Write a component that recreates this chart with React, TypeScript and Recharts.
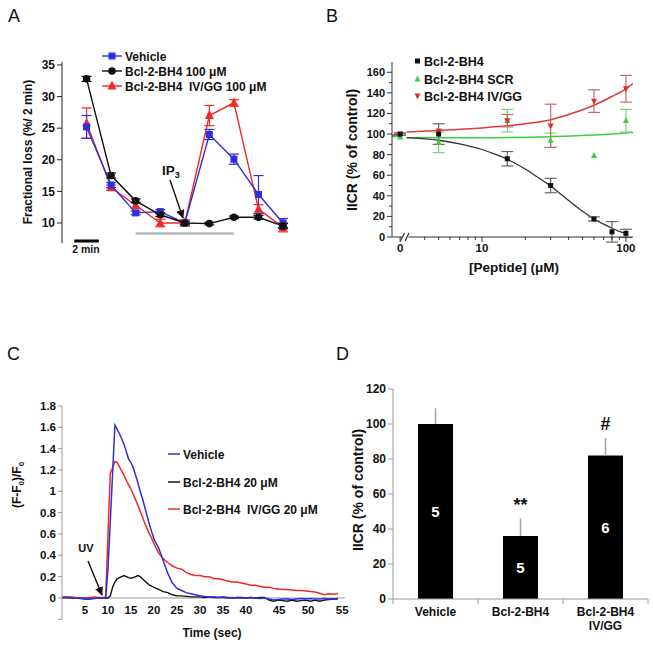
import React from "react";
import {
  LineChart,
  Line,
  XAxis,
  YAxis,
  ErrorBar,
  ReferenceLine,
  ComposedChart,
  Scatter,
  Bar,
  LabelList,
} from "recharts";

const FONT = "'Liberation Sans', Arial, Helvetica, sans-serif";
const W = 653;
const H = 646;

const BLUE = "#2f2fd8";
const RED = "#f02828";
const BLACK = "#111111";
const GREEN = "#3fcf3f";

// ---------- A: fractional loss, one point per 2 min fraction
const aIndex = [0, 1, 2, 3, 4, 5, 6, 7, 8];
const aVehicle = [25.2, 16.0, 11.6, 11.8, 10.0, 24.0, 20.1, 14.5, 10.0];
const aVehicleErr = [1.8, 0.4, 0.3, 0.3, 0.3, 0.8, 0.8, 3.0, 0.7];
const aBh4 = [32.8, 17.5, 13.5, 11.3, 10.0, 9.9, 10.9, 10.9, 9.5];
const aBh4Err = [0.4, 0.4, 0.3, 0.3, 0.2, 0.2, 0.2, 0.3, 0.4];
const aIvgg = [25.8, 15.6, 12.8, 10.0, 10.0, 27.0, 29.0, 12.2, 9.3];
const aIvggErr = [2.4, 0.4, 0.5, 0.6, 0.5, 1.6, 0.5, 0.7, 0.7];
const aYTicks = [10, 15, 20, 25, 30, 35];
const aNames = ["Vehicle", "Bcl-2-BH4 100 μM", "Bcl-2-BH4  IV/GG 100 μM"];

// ---------- B: dose response
const ZERO_AT = 2.7; // where "0" sits, left of the axis break
const bPos = (c: number) => (c === 0 ? ZERO_AT : c);
const bConc = [0, 5, 15, 30, 60, 80, 100];
const bBh4 = [100, 100, 76, 50, 17.5, 5, 3.5];
const bBh4Err = [1, 10, 7, 7, 2, 10, 4];
const bScrConc = [0, 5, 15, 30, 60, 100];
const bScr = [97, 92, 113, 94, 79, 113];
const bScrErr = [0, 10, 11, 7, 0, 11];
const bIvConc = [0, 5, 15, 30, 60, 100];
const bIv = [100, 103, 113, 108, 132, 144];
const bIvErr = [1, 0, 6, 21, 11, 13];

const bBh4FitC = [3, 5, 7, 10, 12, 15, 20, 25, 30, 35, 40, 50, 60, 70, 80, 90, 100];
const bBh4FitV = [96.5, 94, 90.5, 85, 81, 75.5, 66, 57, 49.5, 42, 35.5, 25, 17.5, 12.5, 8.5, 5.5, 3.5];
const bIvPreC = [2.371, 2.7];
const bIvPreV = [98.5, 101];
const bIvFitC = [3, 5, 10, 15, 20, 30, 40, 60, 80, 100, 112];
const bIvFitV = [102, 103.5, 106, 108, 110, 114, 119, 128, 136.5, 144, 149];
const bScrPreC = [2.371, 2.7];
const bScrPreV = [97.5, 97.5];
const bScrFitC = [3, 10, 30, 60, 100, 112];
const bScrFitV = [96.5, 96.5, 97.5, 99, 101, 101.5];

const bXTicks = [2.7, 4, 5, 6, 7, 8, 9, 10, 20, 30, 40, 50, 60, 70, 80, 90, 100];
const bXMajor = [2.7, 10, 100];
const bXMajorLabels = ["0", "10", "100"];
const bYTicks = [0, 10, 20, 30, 40, 50, 60, 70, 80, 90, 100, 110, 120, 130, 140, 150, 160];
const bNames = ["Bcl-2-BH4", "Bcl-2-BH4 SCR", "Bcl-2-BH4 IV/GG"];

// ---------- C: flash photolysis traces
const cTime = [
  0, 1, 2, 3, 4, 5, 6, 7, 8, 9,
  9.5, 10, 10.5, 11, 11.5, 12, 12.5, 13, 13.5, 14, 14.5, 15, 15.5, 16, 16.5, 17, 17.5, 18, 18.5, 19, 19.5,
  20, 21, 22, 23, 24, 25, 26, 27, 28, 29, 30, 31, 32, 33, 34, 35, 36, 37, 38, 39,
  40, 41, 42, 43, 44, 45, 46, 47, 48, 49, 50, 51, 52, 53, 54, 55, 56, 57, 58, 59, 60,
];
const cVehicle = [
  0.01, 0.01, 0.0, 0.0, 0.0, -0.005, -0.01, -0.005, 0.0, 0.0,
  0.0, 0.27, 0.72, 1.17, 1.62, 1.58, 1.54, 1.49, 1.44, 1.37, 1.3, 1.27, 1.22, 1.15, 1.08, 1.0, 0.93, 0.85, 0.77, 0.69, 0.62,
  0.55, 0.47, 0.35, 0.23, 0.14, 0.09, 0.07, 0.05, 0.04, 0.03, 0.02, 0.015, 0.01, 0.01, 0.005, 0.005, 0.0, 0.005, 0.0, 0.0,
  0.0, 0.005, 0.0, -0.005, 0.0, -0.01, -0.02, -0.015, -0.01, -0.01, -0.015, -0.01, -0.005, -0.01, -0.005, -0.01, -0.01, -0.005, -0.01, -0.01, -0.005,
];
const cBh4 = [
  0.0, 0.005, 0.0, 0.0, -0.005, -0.01, -0.01, 0.0, 0.0, 0.0,
  0.0, 0.0, 0.02, 0.1, 0.15, 0.18, 0.19, 0.2, 0.21, 0.2, 0.19, 0.185, 0.19, 0.2, 0.21, 0.2, 0.18, 0.16, 0.14, 0.12, 0.11,
  0.1, 0.08, 0.06, 0.05, 0.03, 0.02, 0.02, 0.015, 0.01, 0.01, 0.01, 0.005, 0.01, 0.005, 0.005, 0.01, 0.005, 0.0, 0.005, 0.005,
  0.0, 0.005, 0.0, 0.005, 0.005, -0.02, -0.03, -0.02, -0.025, -0.03, -0.02, -0.03, -0.025, -0.02, -0.03, -0.02, -0.03, -0.02, -0.015, -0.01, -0.01,
];
const cIvgg = [
  0.0, 0.01, 0.01, 0.005, 0.0, 0.0, 0.005, 0.01, 0.005, 0.005,
  0.01, 0.6, 1.17, 1.22, 1.28, 1.27, 1.23, 1.19, 1.15, 1.1, 1.06, 1.02, 0.97, 0.92, 0.87, 0.81, 0.76, 0.7, 0.65, 0.6, 0.56,
  0.51, 0.42, 0.37, 0.33, 0.3, 0.28, 0.27, 0.24, 0.22, 0.21, 0.21, 0.2, 0.2, 0.18, 0.18, 0.17, 0.16, 0.15, 0.15, 0.14,
  0.13, 0.12, 0.12, 0.11, 0.1, 0.1, 0.09, 0.085, 0.08, 0.08, 0.075, 0.07, 0.07, 0.065, 0.06, 0.055, 0.045, 0.03, 0.04, 0.035, 0.04,
];
// tick labels sit where the sampled axis put them (uneven spacing after 40 s)
const cTickPos = [5, 10, 15, 20, 25, 30, 35, 40, 47.2, 53.5, 60.9];
const cTickLabels = ["5", "10", "15", "20", "25", "30", "35", "40", "45", "50", "55"];
const cYTicks = [-0.2, 0, 0.2, 0.4, 0.6, 0.8, 1, 1.2, 1.4, 1.6, 1.8];
const cNames = ["Vehicle", "Bcl-2-BH4 20 μM", "Bcl-2-BH4  IV/GG 20 μM"];

// ---------- D: IICR summary bars
const dGroups = ["Vehicle", "Bcl-2-BH4", "Bcl-2-BH4\nIV/GG"];
const dMean = [100, 36, 82];
const dSem = [9, 10, 10];
const dN = [5, 5, 6];
const dSig = ["", "**", "#"];
const dYTicks = [0, 20, 40, 60, 80, 100, 120];

const aData = aIndex.map((i, k) => ({
  i,
  veh: aVehicle[k],
  vehE: aVehicleErr[k],
  bh4: aBh4[k],
  bh4E: aBh4Err[k],
  iv: aIvgg[k],
  ivE: aIvggErr[k],
}));

const pts = (cs: number[], vs: number[], es?: number[]) =>
  cs.map((c, k) => ({ c: bPos(c), v: vs[k], e: es ? es[k] : 0 }));
const curve = (cs: number[], vs: number[]) => cs.map((c, k) => ({ c, v: vs[k] }));

const cData = cTime.map((t, k) => ({ t, veh: cVehicle[k], bh4: cBh4[k], iv: cIvgg[k] }));

const dData = dGroups.map((name, k) => ({
  name,
  mean: dMean[k],
  err: [0, dSem[k]],
  n: dN[k],
  sig: dSig[k],
  sigY: dMean[k] + dSem[k],
}));

const txt = (size: number, weight = 700) => ({
  fontFamily: FONT,
  fontWeight: weight,
  fontSize: size,
  fill: "#111",
});

// ---------- markers
const squareDot = (color: string, s: number) => (p: any) =>
  p.cx == null ? <g key={p.key} /> : (
    <rect key={p.key} x={p.cx - s / 2} y={p.cy - s / 2} width={s} height={s} fill={color} />
  );
const circleDot = (color: string, r: number) => (p: any) =>
  p.cx == null ? <g key={p.key} /> : <circle key={p.key} cx={p.cx} cy={p.cy} r={r} fill={color} />;
const triDot = (color: string, s: number, down = false) => (p: any) => {
  if (p.cx == null) return <g key={p.key} />;
  const { cx, cy } = p;
  const d = down ? -1 : 1;
  return (
    <polygon
      key={p.key}
      points={`${cx},${cy - d * s * 0.6} ${cx - s / 2},${cy + d * s * 0.4} ${cx + s / 2},${cy + d * s * 0.4}`}
      fill={color}
    />
  );
};

// ---------- custom ticks
function BYTick(p: any) {
  const v = p.payload.value;
  const major = v % 20 === 0;
  return (
    <g>
      <line x1={p.x} y1={p.y} x2={p.x - (major ? 5 : 3)} y2={p.y} stroke="#333" />
      {major && (
        <text x={p.x - 7} y={p.y + 4} textAnchor="end" style={txt(11)}>
          {v}
        </text>
      )}
    </g>
  );
}

function BXTick(p: any) {
  const v = p.payload.value;
  const k = bXMajor.indexOf(v);
  return (
    <g>
      <line x1={p.x} y1={p.y} x2={p.x} y2={p.y + (k >= 0 ? 5 : 3)} stroke="#333" />
      {k >= 0 && (
        <text x={p.x} y={p.y + 15} textAnchor="middle" style={txt(11.5)}>
          {bXMajorLabels[k]}
        </text>
      )}
    </g>
  );
}

function CXTick(p: any) {
  const k = cTickPos.indexOf(p.payload.value);
  return (
    <text x={p.x} y={p.y - 5} textAnchor="middle" style={txt(11.5)}>
      {cTickLabels[k]}
    </text>
  );
}

function DXTick(p: any) {
  const lines = String(dGroups[p.index]).split("\n");
  const half = 42.5;
  return (
    <g>
      <line x1={p.x - half} x2={p.x - half} y1={p.y} y2={p.y + 5} stroke="#999" />
      {p.index === dGroups.length - 1 && (
        <line x1={p.x + half} x2={p.x + half} y1={p.y} y2={p.y + 5} stroke="#999" />
      )}
      <text x={p.x} y={p.y + 17} textAnchor="middle" style={txt(12)}>
        {lines.map((l, k) => (
          <tspan key={k} x={p.x} dy={k === 0 ? 0 : 13.5}>
            {l}
          </tspan>
        ))}
      </text>
    </g>
  );
}

const layer: React.CSSProperties = { position: "absolute", left: 0, top: 0 };

function PanelA() {
  return (
    <div style={layer}>
      <LineChart width={W} height={H} data={aData} margin={{ top: 61.8, right: 345.4, bottom: 402.8, left: 22 }}>
        <XAxis type="number" dataKey="i" domain={[-1, 9]} hide allowDataOverflow />
        <YAxis
          type="number"
          domain={[6.8, 35.5]}
          ticks={aYTicks}
          allowDataOverflow
          width={40}
          tickSize={5}
          stroke="#222"
          tick={txt(12)}
        />
        <ReferenceLine segment={[{ x: 2, y: 8.35 }, { x: 6, y: 8.35 }]} stroke="#b4b4b4" strokeWidth={2.5} />
        <ReferenceLine segment={[{ x: -0.5, y: 7.15 }, { x: 0.5, y: 7.15 }]} stroke="#000" strokeWidth={3} />
        <Line dataKey="iv" stroke={RED} strokeWidth={1.4} dot={triDot(RED, 9)} isAnimationActive={false}>
          <ErrorBar dataKey="ivE" stroke={RED} width={5} strokeWidth={1.2} />
        </Line>
        <Line dataKey="veh" stroke={BLUE} strokeWidth={1.4} dot={squareDot(BLUE, 7)} isAnimationActive={false}>
          <ErrorBar dataKey="vehE" stroke={BLUE} width={5} strokeWidth={1.2} />
        </Line>
        <Line dataKey="bh4" stroke={BLACK} strokeWidth={1.4} dot={circleDot(BLACK, 3.8)} isAnimationActive={false}>
          <ErrorBar dataKey="bh4E" stroke={BLACK} width={5} strokeWidth={1.2} />
        </Line>
      </LineChart>
    </div>
  );
}

function PanelB() {
  return (
    <div style={layer}>
      <ComposedChart width={W} height={H} margin={{ top: 62, right: 20, bottom: 379, left: 352 }}>
        <XAxis
          type="number"
          dataKey="c"
          scale="log"
          domain={[2.371, 112]}
          allowDataOverflow
          ticks={bXTicks}
          interval={0}
          height={30}
          tickSize={0}
          tickMargin={0}
          tickLine={false}
          tick={<BXTick />}
          stroke="#333"
        />
        <YAxis
          type="number"
          dataKey="v"
          domain={[0, 170]}
          allowDataOverflow
          ticks={bYTicks}
          interval={0}
          width={40}
          tickSize={0}
          tickMargin={0}
          tickLine={false}
          tick={<BYTick />}
          stroke="#333"
        />
        <Line data={curve(bScrPreC, bScrPreV)} dataKey="v" stroke={GREEN} strokeWidth={1.5} dot={false} isAnimationActive={false} />
        <Line data={curve(bScrFitC, bScrFitV)} dataKey="v" type="monotone" stroke={GREEN} strokeWidth={1.5} dot={false} isAnimationActive={false} />
        <Line data={curve(bIvPreC, bIvPreV)} dataKey="v" stroke="#e03a3a" strokeWidth={1.5} dot={false} isAnimationActive={false} />
        <Line data={curve(bIvFitC, bIvFitV)} dataKey="v" type="monotone" stroke="#e03a3a" strokeWidth={1.5} dot={false} isAnimationActive={false} />
        <Line data={curve(bBh4FitC, bBh4FitV)} dataKey="v" type="monotone" stroke="#333" strokeWidth={1.3} dot={false} isAnimationActive={false} />
        <Scatter data={pts(bScrConc, bScr, bScrErr)} dataKey="v" shape={triDot(GREEN, 6)} isAnimationActive={false}>
          <ErrorBar dataKey="e" direction="y" stroke="#7ad67a" width={6} strokeWidth={1.2} />
        </Scatter>
        <Scatter data={pts(bIvConc, bIv, bIvErr)} dataKey="v" shape={triDot("#d8302a", 6, true)} isAnimationActive={false}>
          <ErrorBar dataKey="e" direction="y" stroke="#c26a6a" width={6} strokeWidth={1.2} />
        </Scatter>
        <Scatter data={pts(bConc, bBh4, bBh4Err)} dataKey="v" shape={squareDot("#111", 5)} isAnimationActive={false}>
          <ErrorBar dataKey="e" direction="y" stroke="#666" width={6} strokeWidth={1.2} />
        </Scatter>
      </ComposedChart>
    </div>
  );
}

function PanelC() {
  return (
    <div style={layer}>
      <LineChart width={W} height={H} data={cData} margin={{ top: 406, right: 308.1, bottom: 6.7, left: 22 }}>
        <XAxis
          type="number"
          dataKey="t"
          domain={[0, 61.5]}
          ticks={cTickPos}
          interval={0}
          height={20}
          axisLine={false}
          tickLine={false}
          tickSize={0}
          tickMargin={0}
          tick={<CXTick />}
        />
        <YAxis
          type="number"
          domain={[-0.2, 1.8]}
          ticks={cYTicks}
          interval={0}
          allowDataOverflow
          width={40}
          tickSize={4}
          stroke="#999"
          tick={txt(11.5)}
          tickFormatter={(v: number) => (v < 0 ? "" : String(Number(v.toFixed(1))))}
        />
        <ReferenceLine y={0} stroke="#999" />
        <Line dataKey="bh4" stroke={BLACK} strokeWidth={1.4} dot={false} isAnimationActive={false} />
        <Line dataKey="iv" stroke={RED} strokeWidth={1.5} dot={false} isAnimationActive={false} />
        <Line dataKey="veh" stroke={BLUE} strokeWidth={1.5} dot={false} isAnimationActive={false} />
      </LineChart>
    </div>
  );
}

function PanelD() {
  return (
    <div style={layer}>
      <ComposedChart width={W} height={H} data={dData} margin={{ top: 389, right: 5, bottom: 17, left: 353 }}>
        <XAxis
          dataKey="name"
          height={30}
          tickLine={false}
          tickSize={0}
          tickMargin={0}
          stroke="#999"
          interval={0}
          tick={<DXTick />}
        />
        <YAxis
          type="number"
          domain={[0, 120]}
          ticks={dYTicks}
          interval={0}
          width={40}
          tickSize={5}
          stroke="#999"
          tick={txt(12)}
        />
        <Bar dataKey="mean" fill="#000" barSize={35} isAnimationActive={false}>
          <ErrorBar dataKey="err" direction="y" width={0} stroke="#a0a0a0" strokeWidth={1.5} />
          <LabelList dataKey="n" position="center" style={{ ...txt(15), fill: "#fff" }} />
        </Bar>
        <Scatter
          dataKey="sigY"
          isAnimationActive={false}
          shape={(p: any) => (
            <text x={p.cx} y={p.cy - 8} textAnchor="middle" style={txt(18)}>
              {p.payload.sig}
            </text>
          )}
        />
      </ComposedChart>
    </div>
  );
}

function Overlay() {
  const aRows = [56, 71, 86];
  const bRows = [61, 79, 96];
  const cRows = [454, 482, 509];
  const aColors = [BLUE, BLACK, RED];
  const cColors = [BLUE, BLACK, RED];
  return (
    <svg width={W} height={H} style={{ ...layer, pointerEvents: "none" }}>
      <defs>
        <marker id="ah" markerWidth="9" markerHeight="8" refX="8" refY="4" orient="auto" markerUnits="userSpaceOnUse">
          <path d="M0,0 L9,4 L0,8 z" fill="#111" />
        </marker>
      </defs>

      {/* panel letters */}
      <text x={8} y={22} style={txt(18, 400)}>A</text>
      <text x={326} y={22} style={txt(18, 400)}>B</text>
      <text x={7} y={360} style={txt(18, 400)}>C</text>
      <text x={336} y={360} style={txt(18, 400)}>D</text>

      {/* A */}
      <text transform="translate(32,152) rotate(-90)" textAnchor="middle" style={txt(12)}>
        Fractional loss (%/ 2 min)
      </text>
      {aRows.map((y, k) => (
        <g key={k}>
          <line x1={102} x2={122} y1={y} y2={y} stroke={aColors[k]} strokeWidth={1.4} />
          {k === 0 && <rect x={108.5} y={y - 3.5} width={7} height={7} fill={BLUE} />}
          {k === 1 && <circle cx={112} cy={y} r={3.8} fill={BLACK} />}
          {k === 2 && <polygon points={`112,${y - 5.4} 107.5,${y + 3.6} 116.5,${y + 3.6}`} fill={RED} />}
          <text x={125} y={y + 4.5} style={txt(12)} xmlSpace="preserve">
            {aNames[k]}
          </text>
        </g>
      ))}
      <text x={162} y={175} style={txt(13.5)}>
        IP<tspan dy={3} fontSize={9}>3</tspan>
      </text>
      <line x1={170} y1={180} x2={183} y2={218} stroke="#111" strokeWidth={1.4} markerEnd="url(#ah)" />
      <text x={86} y={253} textAnchor="middle" style={txt(10.5)}>2 min</text>

      {/* B */}
      <text transform="translate(357,150) rotate(-90)" textAnchor="middle" style={txt(14)}>
        IICR (% of control)
      </text>
      <text x={514} y={272} textAnchor="middle" style={txt(13.5)}>
        [Peptide] (μM)
      </text>
      <rect x={402.5} y={234.5} width={6} height={5} fill="#fff" />
      <line x1={400.5} y1={241} x2={404.5} y2={233} stroke="#333" strokeWidth={1.2} />
      <line x1={405} y1={241} x2={409} y2={233} stroke="#333" strokeWidth={1.2} />
      {bRows.map((y, k) => (
        <g key={k}>
          {k === 0 && <rect x={415} y={y - 2.5} width={5} height={5} fill="#111" />}
          {k === 1 && <polygon points={`417.5,${y - 3.6} 414.5,${y + 2.4} 420.5,${y + 2.4}`} fill={GREEN} />}
          {k === 2 && <polygon points={`417.5,${y + 3.6} 414.5,${y - 2.4} 420.5,${y - 2.4}`} fill="#d8302a" />}
          <text x={424} y={y + 4.5} style={txt(12.5)}>
            {bNames[k]}
          </text>
        </g>
      ))}

      {/* C */}
      <text transform="translate(21,485) rotate(-90)" textAnchor="middle" style={txt(12)}>
        (F-F<tspan dy={3} fontSize={8}>0</tspan>
        <tspan dy={-3}>)/F</tspan>
        <tspan dy={3} fontSize={8}>0</tspan>
      </text>
      <text x={212} y={637} textAnchor="middle" style={txt(12)}>Time (sec)</text>
      {cRows.map((y, k) => (
        <g key={k}>
          <line x1={168} x2={180} y1={y} y2={y} stroke={cColors[k]} strokeWidth={1.5} />
          <text x={183} y={y + 4.5} style={txt(12)} xmlSpace="preserve">
            {cNames[k]}
          </text>
        </g>
      ))}
      <text x={86} y={552} textAnchor="middle" style={txt(11)}>UV</text>
      <line x1={88} y1={561} x2={102} y2={595} stroke="#111" strokeWidth={1.4} markerEnd="url(#ah)" />

      {/* D */}
      <text transform="translate(363,490) rotate(-90)" textAnchor="middle" style={txt(14)}>
        IICR (% of control)
      </text>
    </svg>
  );
}

export default function App() {
  return (
    <div style={{ position: "absolute", left: 0, top: 0, width: W, height: H, background: "#fff" }}>
      <PanelA />
      <PanelB />
      <PanelC />
      <PanelD />
      <Overlay />
    </div>
  );
}
